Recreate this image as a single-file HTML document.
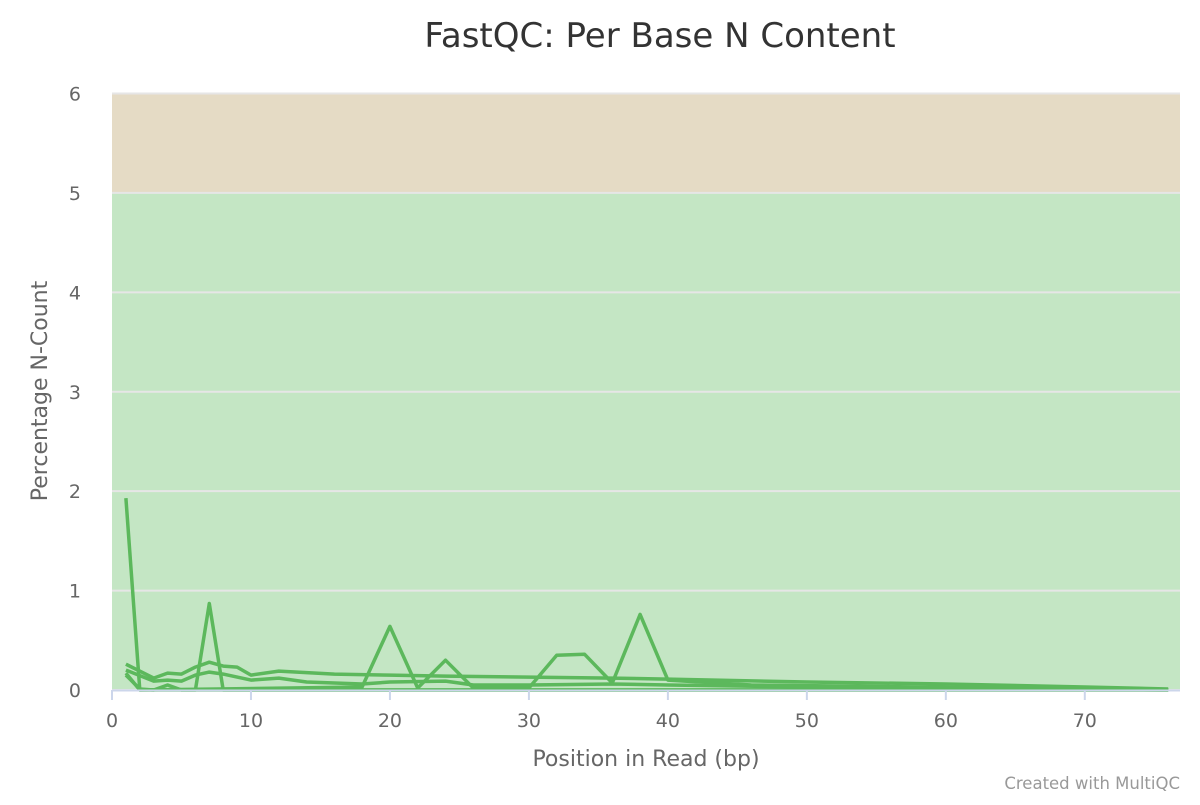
<!DOCTYPE html>
<html><head><meta charset="utf-8"><style>
body{margin:0;background:#fff;}
svg text{font-family:"DejaVu Sans","Liberation Sans",sans-serif;}
</style></head><body>
<svg id="chart" width="1200" height="800" xmlns="http://www.w3.org/2000/svg">
<text x="660" y="47" text-anchor="middle" font-size="34" fill="#333">FastQC: Per Base N Content</text>
<g id="bands"></g><g id="grid"></g><g id="lines"></g><g id="axes"></g>
<text transform="translate(47,391) rotate(-90)" text-anchor="middle" font-size="22" fill="#666">Percentage N-Count</text>
<text x="646" y="766" text-anchor="middle" font-size="22" fill="#666">Position in Read (bp)</text>
<text x="1180" y="789" text-anchor="end" font-size="16.5" fill="#999">Created with MultiQC</text>
</svg>
<script>
const xTicks=[0,10,20,30,40,50,60,70];
const yTicks=[0,1,2,3,4,5,6];
const s1x=[1,3,4,5,6,7,8,9,10,12,16,20,24,30,36,40,50,60,70,76];
const s1y=[0.26,0.12,0.17,0.16,0.23,0.28,0.24,0.23,0.15,0.19,0.16,0.15,0.14,0.13,0.12,0.11,0.08,0.06,0.03,0.01];
const s2x=[1,3,4,5,6,7,8,10,12,14,18,20,24,26,30,36,40,50,76];
const s2y=[0.2,0.09,0.1,0.09,0.15,0.18,0.16,0.1,0.12,0.08,0.06,0.08,0.09,0.05,0.05,0.06,0.05,0.03,0];
const s3x=[1,2,6,7,8,76];
const s3y=[1.93,0,0,0.87,0,0];
const s4x=[1,2,18,20,22,24,26,30,32,34,36,38,40,46,76];
const s4y=[0.17,0,0.03,0.64,0.02,0.30,0.02,0.02,0.35,0.36,0.07,0.76,0.1,0.05,0];
const s5x=[1,2,3,4,5,76];
const s5y=[0.15,0.01,0,0.05,0,0];
const series=[[s1x,s1y],[s2x,s2y],[s3x,s3y],[s4x,s4y],[s5x,s5y]];
const X0=112,X1=1180,XMAX=76.85,Y0=690,Y1=93.5,YMAX=6;
const xs=v=>X0+(X1-X0)*v/XMAX, ys=v=>Y0-(Y0-Y1)*v/YMAX;
const NS='http://www.w3.org/2000/svg';
function mk(t,a,p){const e=document.createElementNS(NS,t);for(const k in a)e.setAttribute(k,a[k]);p.appendChild(e);return e;}
const bands=document.getElementById('bands'),grid=document.getElementById('grid'),lines=document.getElementById('lines'),axes=document.getElementById('axes');
let b=mk('rect',{x:X0,y:ys(6),width:X1-X0,height:ys(5)-ys(6),fill:'#e5dbc5'},bands);


b=mk('rect',{x:X0,y:ys(5),width:X1-X0,height:ys(0)-ys(5),fill:'#c4e6c4'},bands);


yTicks.forEach(v=>{
 const l=mk('line',{x1:X0,x2:X1,y1:ys(v),y2:ys(v),stroke:'#e6e6e6','stroke-width':2},grid);
 
 
 const t=mk('text',{x:81,y:ys(v)+7,'text-anchor':'end','font-size':19,fill:'#666'},axes);
 t.textContent=v;
 
 
});
series.forEach((s,i)=>{
 const d=s[0].map((x,j)=>(j?'L':'M')+xs(x).toFixed(1)+','+ys(s[1][j]).toFixed(1)).join('');
 const p=mk('path',{d:d,fill:'none',stroke:'#5cb85c','stroke-width':3.5,'stroke-linejoin':'round'},lines);
 
 
});
const ax=mk('line',{x1:X0,x2:X1,y1:Y0+0.5,y2:Y0+0.5,stroke:'#ccd6eb','stroke-width':2},axes);


xTicks.forEach(v=>{
 const l=mk('line',{x1:xs(v),x2:xs(v),y1:Y0,y2:Y0+10,stroke:'#ccd6eb','stroke-width':2},axes);
 
 
 const t=mk('text',{x:xs(v),y:727,'text-anchor':'middle','font-size':19,fill:'#666'},axes);
 t.textContent=v;
 
 
});
</script>
</body></html>
